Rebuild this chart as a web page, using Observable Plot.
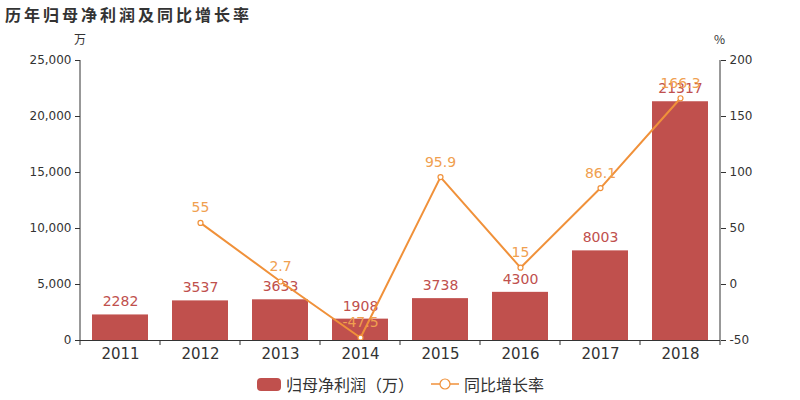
<!DOCTYPE html>
<html><head><meta charset="utf-8">
<script src="https://cdn.jsdelivr.net/npm/d3@7"></script>
<script src="https://cdn.jsdelivr.net/npm/@observablehq/plot@0.6"></script>
<style>
body{margin:0;background:#fff;font-family:"DejaVu Sans","Noto Sans CJK SC",sans-serif;}
#wrap{position:relative;width:800px;height:400px;overflow:hidden;}
#title{position:absolute;left:5px;top:2px;font-size:16px;font-weight:bold;color:#333;letter-spacing:3px;font-family:"Noto Sans CJK SC",sans-serif;}
.unit{position:absolute;top:30px;font-size:12px;color:#333;font-family:"Noto Sans CJK SC","DejaVu Sans",sans-serif;}
#legend{position:absolute;top:372px;left:0;width:800px;font-size:16px;color:#333;font-family:"Noto Sans CJK SC",sans-serif;display:flex;justify-content:center;align-items:center;}
#legend span{display:inline-flex;align-items:center;}
</style></head>
<body>
<div id="wrap">
<div id="title">历年归母净利润及同比增长率</div>
<div class="unit" style="left:74px">万</div>
<div class="unit" style="left:714px">%</div>
<div id="chart"></div>
<div id="legend">
 <span><svg width="26" height="16" style="margin-right:4px"><rect x="1" y="2" width="24" height="13" rx="4" fill="#c0504d"/></svg>归母净利润（万）</span>
 <span style="margin-left:16px"><svg width="30" height="16" style="margin-right:4px"><line x1="1" x2="29" y1="8" y2="8" stroke="#f0913a" stroke-width="1.5"/><circle cx="15" cy="8" r="5" fill="#fff" stroke="#f0913a" stroke-width="1.2"/></svg>同比增长率</span>
</div>
</div>
<script>
const years = ["2011","2012","2013","2014","2015","2016","2017","2018"];
const profit = [2282,3537,3633,1908,3738,4300,8003,21317];
const growthYears = ["2012","2013","2014","2015","2016","2017","2018"];
const growth = [55,2.7,-47.5,95.9,15,86.1,166.3];
const leftTicks = [0,5000,10000,15000,20000,25000];
const rightTicks = [-50,0,50,100,150,200];

const bars = years.map((y,i)=>({year:y, value:profit[i]}));
const line = growthYears.map((y,i)=>({year:y, value:growth[i]}));
const toLeft = v => (v+50)/250*25000;

const barColor = "#c0504d";
const lineColor = "#f0913a";
const lineLabel = "#f0a050";

function boundaryTicks(index, scales, values, dims) {
  const x = scales.x, bw = x.bandwidth ? x.bandwidth() : 56;
  const xs = years.map(y => x(y));
  const step = xs[1]-xs[0];
  const gap = (step - bw)/2;
  const pos = xs.map(v => v - gap); pos.push(xs[xs.length-1] + bw + gap);
  const y0 = dims.height - dims.marginBottom;
  const g = d3.create("svg:g");
  g.selectAll("line").data(pos).join("line")
    .attr("x1", d=>d).attr("x2", d=>d).attr("y1", y0).attr("y2", y0+5)
    .attr("stroke", "#333");
  return g.node();
}

const chart = Plot.plot({
  width: 800, height: 400,
  marginTop: 60, marginBottom: 60, marginLeft: 80, marginRight: 80,
  style: {fontFamily: "DejaVu Sans, sans-serif", color: "#333", background: "transparent"},
  x: {domain: years, paddingInner: 0.3, paddingOuter: 0.15, label: null},
  y: {domain: [0, 25000], label: null},
  marks: [
    Plot.barY(bars, {x: "year", y: "value", fill: barColor}),
    Plot.text(bars, {x: "year", y: "value", text: d => String(d.value), dy: -13, fill: barColor, fontSize: 14}),
    Plot.line(line, {x: "year", y: d => toLeft(d.value), stroke: lineColor, strokeWidth: 2}),
    Plot.dot(line, {x: "year", y: d => toLeft(d.value), r: 2.5, fill: "#fff", stroke: lineColor, strokeWidth: 1.2}),
    Plot.text(line, {x: "year", y: d => toLeft(d.value), text: d => String(d.value), dy: -15, fill: lineLabel, fontSize: 14}),
    Plot.axisY(leftTicks, {anchor: "left", tickFormat: d3.format(","), fontSize: 12, tickSize: 5, label: null}),
    Plot.axisY(rightTicks.map(toLeft), {anchor: "right", tickFormat: d => String(Math.round(d/100 - 50)), fontSize: 12, tickSize: 5, label: null}),
    Plot.axisX({tickSize: 0, tickPadding: 8, fontSize: 15, label: null}),
    Plot.ruleY([0], {stroke: "#333"}),
    boundaryTicks
  ]
});
const svg = d3.select(chart);
svg.append("line").attr("x1",80).attr("x2",80).attr("y1",60).attr("y2",340).attr("stroke","#333");
svg.append("line").attr("x1",720).attr("x2",720).attr("y1",60).attr("y2",340).attr("stroke","#333");
document.getElementById("chart").appendChild(chart);
</script>
</body></html>
